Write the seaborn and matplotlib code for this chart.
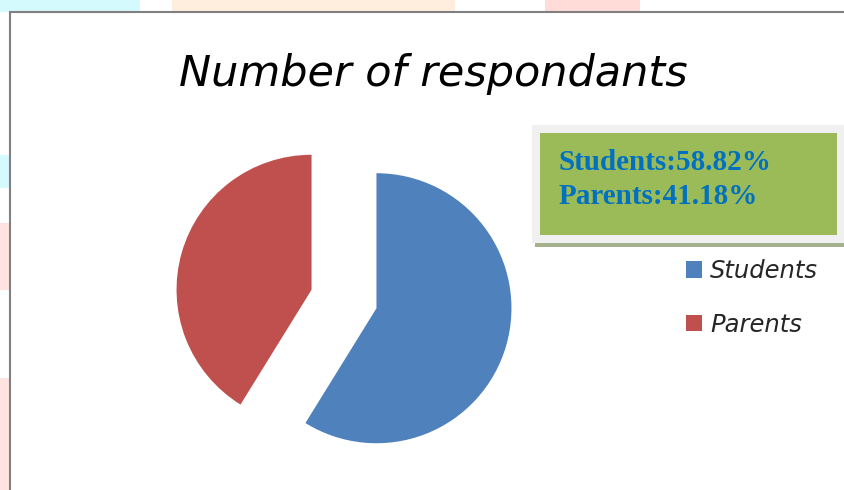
import numpy as np
import matplotlib
matplotlib.use("Agg")
import matplotlib.pyplot as plt
from matplotlib.patches import Rectangle
import seaborn as sns

# data
groups = ["Students", "Parents"]
shares = [58.82, 41.18]
colors = ["#4F81BD", "#C0504D"]
explode = [0.25, 0.25]

W, H = 845, 490

sns.set_theme(style="white")
plt.rcParams["font.family"] = ["DejaVu Sans"]

fig = plt.figure(figsize=(W / 100, H / 100), dpi=100)
fig.patch.set_facecolor("white")


def px_rect(x0, y0, x1, y1, **kw):
    # rectangle given in pixel coords from the top left corner
    r = Rectangle((x0 / W, 1 - y1 / H), (x1 - x0) / W, (y1 - y0) / H,
                  transform=fig.transFigure, **kw)
    fig.patches.append(r)


# faint watermark pieces outside the slide frame
px_rect(0, 0, 140, 12, color="#D4FAFD", lw=0)
px_rect(172, 0, 455, 12, color="#FFEEDD", lw=0)
px_rect(545, 0, 640, 12, color="#FFDCD8", lw=0)
px_rect(0, 155, 10, 188, color="#D4FAFD", lw=0)
px_rect(0, 223, 10, 290, color="#FFE3E3", lw=0)
px_rect(0, 378, 10, 490, color="#FFE3E3", lw=0)

# slide frame (top and left edge)
fig.lines.append(plt.Line2D([10 / W, 1], [1 - 12 / H, 1 - 12 / H],
                            transform=fig.transFigure, color="#808080", lw=1.5))
fig.lines.append(plt.Line2D([10 / W, 10 / W], [0, 1 - 12 / H],
                            transform=fig.transFigure, color="#808080", lw=1.5))

# pie axes: radius 1 -> 135 px, centre at (344, 299)
R = 135
L = 1.5
side = 2 * L * R
cx, cy = 344, 299
ax = fig.add_axes([(cx - side / 2) / W, (H - cy - side / 2) / H, side / W, side / H])
wedges, _ = ax.pie(shares, colors=colors, explode=explode, startangle=90,
                   counterclock=False, radius=1,
                   wedgeprops=dict(linewidth=0))
ax.set_xlim(-L, L)
ax.set_ylim(-L, L)
ax.set_aspect("equal")
ax.axis("off")

# title
fig.text(433 / W, 1 - 86 / H, "Number of respondants", ha="center", va="baseline",
         fontsize=31, style="oblique", family="DejaVu Sans", color="black")

# green info box
px_rect(532, 125, 845, 243, color="#F0F0F0", lw=0)
px_rect(540, 133, 837, 235, color="#9BBB59", lw=0)
px_rect(535, 243, 845, 247, color="#A5B08C", lw=0)
box_lines = [f"{g}:{s:.2f}%" for g, s in zip(groups, shares)]
for i, t in enumerate(box_lines):
    fig.text(559 / W, 1 - (170 + 34 * i) / H, t, ha="left", va="baseline",
             fontsize=21, fontweight="bold", family="Liberation Serif",
             color="#0070C0")

# legend
fig.legend(wedges, groups, loc="upper left",
           bbox_to_anchor=(686 / W, 1 - 259 / H), frameon=False,
           prop=dict(family="DejaVu Sans", style="oblique", size=17.5),
           handlelength=0.66, handleheight=0.66, handletextpad=0.33,
           labelspacing=1.22, borderpad=0, borderaxespad=0)

fig.savefig("out.png", dpi=100)
